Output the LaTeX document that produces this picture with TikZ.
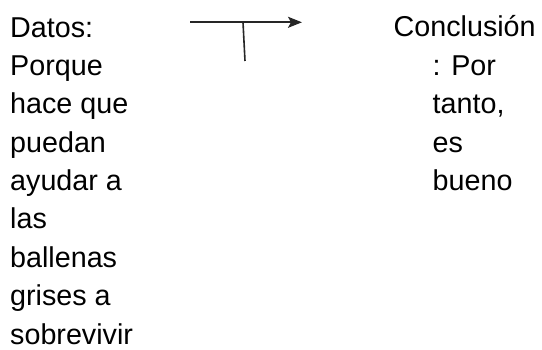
\documentclass[tikz,border=0pt]{standalone}
\usepackage{fontspec}
\setmainfont{Liberation Sans}
\usepackage{xcolor}
\usetikzlibrary{arrows.meta,positioning}
\definecolor{ink}{HTML}{000000}
\tikzset{
  >={Stealth[length=14pt,width=11pt,inset=3pt]},
  coltext/.style={
    align=left, inner sep=0pt, text=ink, anchor=base west,
    font=\fontsize{28.7}{38.4}\selectfont
  },
  flow/.style={->, line width=1.8pt, draw=ink!85},
  tick/.style={line width=1.6pt, draw=ink!85}
}
\newcommand{\indentline}{\hspace*{39pt}}

\begin{document}
\begin{tikzpicture}[x=1pt,y=1pt]
  \useasboundingbox (0,0) rectangle (542,-350);

  % columns (base anchor sits on the last line)
  \node[coltext] (datos) at (10,-344.2)
     {Datos:\\Porque\\hace que\\puedan\\ayudar a\\las\\ballenas\\grises a\\sobrevivir};
  \node[coltext] (conclusion) at (393.5,-190.6)
     {Conclusión\\\indentline: Por\\\indentline tanto,\\\indentline es\\\indentline bueno};

  % arrow
  \coordinate (from)  at (190,-22.3);
  \coordinate (to)    at (302,-22.3);
  \coordinate (foot)  at (243,-22.3);
  \coordinate (stem)  at (245,-61);

  \draw[flow] (from) -- (to);
  \draw[tick] (foot) -- (stem);
\end{tikzpicture}
\end{document}
